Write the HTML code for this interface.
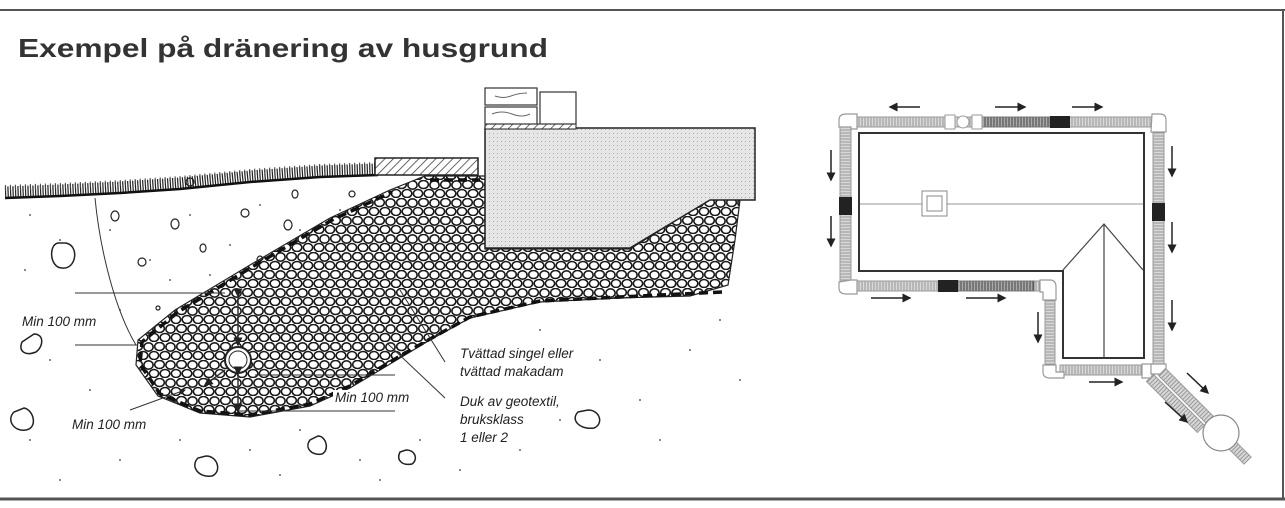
<!DOCTYPE html>
<html><head><meta charset="utf-8"><style>html,body{margin:0;padding:0;background:#fff}svg{display:block}</style></head>
<body>
<svg width="1285" height="508" viewBox="0 0 1285 508" xmlns="http://www.w3.org/2000/svg">
<defs>
<pattern id="stones" width="22" height="18" patternUnits="userSpaceOnUse">
<rect width="22" height="18" fill="#fff"/>
<ellipse cx="5.5" cy="4.5" rx="4.8" ry="4" fill="#fff" stroke="#1a1a1a" stroke-width="1.6"/>
<ellipse cx="16.5" cy="5" rx="4.6" ry="4.2" fill="#fff" stroke="#1a1a1a" stroke-width="1.6"/>
<ellipse cx="11" cy="13.5" rx="4.8" ry="4" fill="#fff" stroke="#1a1a1a" stroke-width="1.6"/>
<ellipse cx="0" cy="13.5" rx="4.6" ry="4" fill="#fff" stroke="#1a1a1a" stroke-width="1.6"/>
<ellipse cx="22" cy="13.5" rx="4.6" ry="4" fill="#fff" stroke="#1a1a1a" stroke-width="1.6"/>
</pattern>
<pattern id="dots" width="4" height="4" patternUnits="userSpaceOnUse">
<rect width="4" height="4" fill="#e6e6e6"/><rect x="1" y="1" width="1" height="1" fill="#aaa"/>
</pattern>
<pattern id="hatch" width="6" height="6" patternUnits="userSpaceOnUse" patternTransform="rotate(45)">
<rect width="6" height="6" fill="#fff"/><line x1="0" y1="0" x2="0" y2="6" stroke="#333" stroke-width="1.5"/>
</pattern>
<pattern id="rib" width="3" height="10" patternUnits="userSpaceOnUse">
<rect width="3" height="10" fill="#d8d8d8"/><line x1="1" y1="0" x2="1" y2="10" stroke="#999" stroke-width="1"/>
</pattern>
<pattern id="ribv" width="10" height="3" patternUnits="userSpaceOnUse">
<rect width="10" height="3" fill="#d8d8d8"/><line x1="0" y1="1" x2="10" y2="1" stroke="#999" stroke-width="1"/>
</pattern>
<pattern id="ribd" width="3" height="10" patternUnits="userSpaceOnUse">
<rect width="3" height="10" fill="#aaa"/><line x1="1" y1="0" x2="1" y2="10" stroke="#444" stroke-width="1"/>
</pattern>
<marker id="ah" markerWidth="6" markerHeight="6" refX="5" refY="3" orient="auto"><path d="M0,0 L6,3 L0,6z" fill="#222"/></marker>
</defs>

<line x1="0" y1="10" x2="1285" y2="10" stroke="#555" stroke-width="2"/>
<line x1="0" y1="499" x2="1285" y2="499" stroke="#555" stroke-width="3"/>
<line x1="1283" y1="10" x2="1283" y2="500" stroke="#555" stroke-width="2"/>

<text x="18" y="57" font-family="Liberation Sans, sans-serif" font-weight="bold" font-size="26" fill="#333" textLength="530" lengthAdjust="spacingAndGlyphs">Exempel på dränering av husgrund</text>

<g fill="#666">
<circle cx="30" cy="215" r="1"/><circle cx="60" cy="240" r="1"/><circle cx="25" cy="270" r="1"/><circle cx="110" cy="230" r="1"/><circle cx="150" cy="260" r="1"/><circle cx="190" cy="215" r="1"/><circle cx="230" cy="245" r="1"/><circle cx="260" cy="205" r="1"/><circle cx="300" cy="230" r="1"/><circle cx="340" cy="210" r="1"/><circle cx="170" cy="280" r="1"/><circle cx="210" cy="275" r="1"/><circle cx="120" cy="310" r="1"/><circle cx="50" cy="360" r="1"/><circle cx="90" cy="390" r="1"/><circle cx="30" cy="440" r="1"/><circle cx="120" cy="460" r="1"/><circle cx="180" cy="440" r="1"/><circle cx="250" cy="450" r="1"/><circle cx="300" cy="430" r="1"/><circle cx="360" cy="460" r="1"/><circle cx="420" cy="440" r="1"/><circle cx="520" cy="450" r="1"/><circle cx="560" cy="420" r="1"/><circle cx="640" cy="400" r="1"/><circle cx="690" cy="350" r="1"/><circle cx="720" cy="320" r="1"/><circle cx="660" cy="440" r="1"/><circle cx="600" cy="360" r="1"/><circle cx="540" cy="330" r="1"/><circle cx="740" cy="380" r="1"/><circle cx="380" cy="480" r="1"/><circle cx="60" cy="480" r="1"/><circle cx="280" cy="475" r="1"/><circle cx="460" cy="470" r="1"/>
</g>
<g fill="none" stroke="#222" stroke-width="1.2">
<ellipse cx="115" cy="216" rx="4" ry="5"/><ellipse cx="175" cy="224" rx="4" ry="5"/><ellipse cx="190" cy="182" rx="4" ry="4"/><ellipse cx="288" cy="225" rx="4" ry="5"/><ellipse cx="245" cy="213" rx="4" ry="4"/><ellipse cx="203" cy="248" rx="3" ry="4"/><ellipse cx="142" cy="262" rx="4" ry="4"/><ellipse cx="260" cy="260" rx="3" ry="4"/><ellipse cx="352" cy="194" rx="3" ry="3"/><ellipse cx="295" cy="194" rx="3" ry="4"/><ellipse cx="158" cy="308" rx="2" ry="2"/>
<path d="M58 243 C48 245 50 268 62 268 C76 270 80 246 66 243 Z" stroke-width="1.5"/>
<path d="M22 342 C18 352 26 356 36 352 C44 346 44 334 34 334 Z" stroke-width="1.5"/>
<path d="M14 412 C6 420 14 432 26 430 C38 428 34 410 24 408 Z" stroke-width="1.5"/>
<path d="M198 458 C190 466 198 478 212 476 C222 472 218 456 206 456 Z" stroke-width="1.5"/>
<path d="M310 440 C304 448 312 456 322 454 C330 450 326 436 318 436 Z" stroke-width="1.5"/>
<path d="M400 452 C396 460 402 466 412 464 C418 460 416 450 406 450 Z" stroke-width="1.5"/>
<path d="M578 412 C570 420 580 430 594 428 C604 424 600 410 588 410 Z" stroke-width="1.5"/>
</g>

<!-- grass -->
<path d="M5 192 L60 190 L120 187 L180 183 L250 176 L320 171 L376 169" fill="none" stroke="#222" stroke-width="11" stroke-dasharray="1.2 1.3"/>
<path d="M5 188 L60 186 L120 183 L180 179 L250 172 L320 167 L376 165" fill="none" stroke="#444" stroke-width="6" stroke-dasharray="1 4"/>
<path d="M5 198 L60 196 L120 193 L180 189 L250 182 L320 177 L378 175" fill="none" stroke="#111" stroke-width="2.5"/>

<rect x="375" y="158" width="103" height="17" fill="url(#hatch)" stroke="#222" stroke-width="1.5"/>

<path d="M425 176 L485 176 L485 249 L630 249 L710 199 L740 200 L735 240 L728 285 L690 296 L620 298 L540 302 L470 318 L430 340 L400 358 L350 388 L310 406 L250 417 L200 413 L158 396 L136 365 L138 340 L175 310 L250 265 L330 218 L390 190 Z" fill="url(#stones)" stroke="#222" stroke-width="1.2"/>
<path d="M430 180 L480 180 M722 292 L620 297 L540 301 L470 317 L430 339 L400 356 L350 386 L310 404 L250 415 L200 411 L160 394 L140 364 L142 342 L178 312 L252 267 L332 220 L392 192" fill="none" stroke="#111" stroke-width="3.5" stroke-dasharray="9 5"/>

<path d="M485 128 L755 128 L755 200 L710 200 L630 248 L485 248 Z" fill="url(#dots)" stroke="#222" stroke-width="1.5"/>
<rect x="485" y="124" width="91" height="5" fill="url(#hatch)" stroke="#222" stroke-width="1"/>
<rect x="485" y="107" width="52" height="17" fill="#fff" stroke="#333" stroke-width="1.2"/>
<rect x="485" y="88" width="52" height="17" fill="#fff" stroke="#333" stroke-width="1.2"/>
<rect x="540" y="92" width="36" height="32" fill="#fff" stroke="#333" stroke-width="1.2"/>
<path d="M492 114 q10 -4 20 0 t18 0 M495 96 q8 3 16 0 t16 -3" fill="none" stroke="#666"/>

<circle cx="238" cy="360" r="13" fill="#fff" stroke="#222" stroke-width="2"/>
<circle cx="238" cy="360" r="9" fill="#fff" stroke="#222" stroke-width="1"/>
<g stroke="#333" stroke-width="1" fill="none">
<line x1="75" y1="293" x2="225" y2="293"/>
<line x1="75" y1="345" x2="138" y2="345"/>
<line x1="255" y1="375" x2="395" y2="375"/>
<line x1="238" y1="411" x2="395" y2="411"/>
<path d="M95 198 C100 250 115 310 136 345"/>
<line x1="400" y1="290" x2="445" y2="362"/>
<line x1="388" y1="344" x2="445" y2="398"/>
<line x1="238" y1="296" x2="238" y2="345" marker-start="url(#ah)" marker-end="url(#ah)" stroke-width="1.5"/>
<line x1="238" y1="374" x2="238" y2="411" marker-start="url(#ah)" marker-end="url(#ah)" stroke-width="1.5"/>
<line x1="225" y1="370" x2="205" y2="385" marker-end="url(#ah)" stroke-width="1.5"/>
<line x1="130" y1="410" x2="185" y2="390" marker-end="url(#ah)"/>
</g>

<g font-family="Liberation Sans, sans-serif" font-style="italic" font-size="13.5" fill="#222">
<rect x="333" y="390" width="84" height="16" fill="#fff"/>
<text x="22" y="326">Min 100 mm</text>
<text x="72" y="429">Min 100 mm</text>
<text x="335" y="402">Min 100 mm</text>
<text x="460" y="358">Tvättad singel eller</text>
<text x="460" y="376">tvättad makadam</text>
<text x="460" y="406">Duk av geotextil,</text>
<text x="460" y="424">bruksklass</text>
<text x="460" y="442">1 eller 2</text>
</g>

<rect x="852" y="117" width="300" height="10" fill="url(#rib)" stroke="#999"/>
<rect x="982" y="117" width="68" height="10" fill="url(#ribd)" stroke="#777"/>
<rect x="1050" y="116" width="20" height="12" fill="#222"/>
<rect x="945" y="115" width="10" height="14" fill="#fff" stroke="#999"/>
<rect x="972" y="115" width="10" height="14" fill="#fff" stroke="#999"/>
<circle cx="963" cy="122" r="6" fill="#fff" stroke="#999"/>
<rect x="840" y="127" width="11" height="157" fill="url(#ribv)" stroke="#999"/>
<rect x="839" y="197" width="13" height="18" fill="#222"/>
<rect x="1153" y="127" width="11" height="240" fill="url(#ribv)" stroke="#999"/>
<rect x="1152" y="203" width="13" height="18" fill="#222"/>
<rect x="852" y="281" width="192" height="10" fill="url(#rib)" stroke="#999"/>
<rect x="958" y="281" width="76" height="10" fill="url(#ribd)" stroke="#777"/>
<rect x="938" y="280" width="20" height="12" fill="#222"/>
<rect x="1045" y="297" width="10" height="68" fill="url(#ribv)" stroke="#999"/>
<rect x="1060" y="365" width="85" height="10" fill="url(#rib)" stroke="#999"/>
<g fill="#fff" stroke="#999" stroke-width="1.2">
<path d="M839 127 L839 120 Q839 114 846 114 L857 114 L857 129 L851 129 L851 127 Z"/>
<path d="M1152 114 L1160 114 Q1166 114 1166 120 L1166 132 L1151 132 Z"/>
<path d="M839 282 L839 288 Q839 294 846 294 L857 294 L857 280 L851 280 Z"/>
<path d="M1040 280 L1050 280 Q1056 280 1056 287 L1056 300 L1043 300 L1043 292 L1040 292 Z"/>
<path d="M1043 365 L1056 365 L1056 372 L1064 372 L1064 378 L1050 378 Q1043 378 1043 372 Z"/>
<path d="M1142 364 L1152 364 L1152 378 L1142 378 Z"/>
<path d="M1151 364 L1166 364 L1166 374 L1151 374 Z"/>
</g>
<g transform="translate(1162,372) rotate(45)"><rect x="0" y="-5" width="70" height="10" fill="url(#rib)" stroke="#999"/></g>
<g transform="translate(1150,378) rotate(45)"><rect x="0" y="-5" width="72" height="10" fill="url(#rib)" stroke="#999"/></g>
<g transform="translate(1232,445) rotate(45)"><rect x="0" y="-5" width="22" height="10" fill="url(#rib)" stroke="#999"/></g>
<circle cx="1221" cy="433" r="18" fill="#fff" stroke="#888" stroke-width="1.2"/>
<path d="M859 133 L1144 133 L1144 358 L1063 358 L1063 271 L859 271 Z" fill="#fff" stroke="#333" stroke-width="2"/>
<line x1="860" y1="204" x2="1143" y2="204" stroke="#aaa" stroke-width="1.2"/>
<rect x="922" y="191" width="25" height="25" fill="#fff" stroke="#888"/>
<rect x="927" y="196" width="15" height="15" fill="#fff" stroke="#888"/>
<path d="M1063 270 L1104 224 L1143 270 M1104 224 L1104 358" fill="none" stroke="#444" stroke-width="1.2"/>
<g stroke="#222" stroke-width="1.5" marker-end="url(#ah)">
<line x1="920" y1="107" x2="890" y2="107"/>
<line x1="995" y1="107" x2="1025" y2="107"/>
<line x1="1072" y1="107" x2="1102" y2="107"/>
<line x1="831" y1="150" x2="831" y2="180"/>
<line x1="831" y1="216" x2="831" y2="246"/>
<line x1="1172" y1="146" x2="1172" y2="176"/>
<line x1="1172" y1="222" x2="1172" y2="252"/>
<line x1="1172" y1="300" x2="1172" y2="330"/>
<line x1="871" y1="298" x2="910" y2="298"/>
<line x1="966" y1="298" x2="1005" y2="298"/>
<line x1="1038" y1="312" x2="1038" y2="342"/>
<line x1="1089" y1="382" x2="1122" y2="382"/>
<line x1="1187" y1="373" x2="1208" y2="393"/>
<line x1="1165" y1="402" x2="1187" y2="422"/>
</g>
</svg>
</body></html>
